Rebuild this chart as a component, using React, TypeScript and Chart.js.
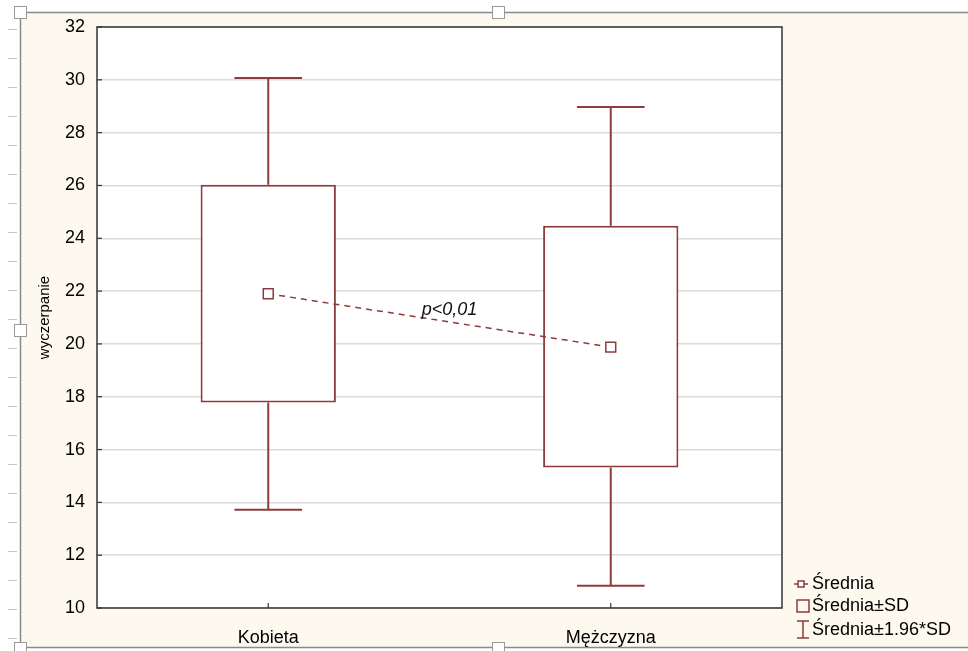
import React, { useEffect, useRef } from "react";
import { Chart, registerables } from "chart.js";

Chart.register(...registerables);

const categories = ["Kobieta", "Mężczyzna"];
const means = [21.9, 19.88];
const sdLow = [17.78, 15.32];
const sdHigh = [26.03, 24.47];
const ciLow = [13.72, 10.84];
const ciHigh = [30.07, 28.97];
const yMin = 10;
const yMax = 32;
const yStep = 2;
const yTitle = "wyczerpanie";
const annotationText = "p<0,01";
const annotationY = 21.3;
const legendLabels = ["Średnia", "Średnia±SD", "Średnia±1.96*SD"];

const RED = "#8e3b3b";
const FONT = "'Liberation Sans', Arial, sans-serif";

const framePlugin = {
  id: "frame",
  beforeDraw(chart: any) {
    const { ctx, width, height, chartArea } = chart;
    ctx.save();
    ctx.fillStyle = "#ffffff";
    ctx.fillRect(0, 0, width, height);
    // cream frame
    ctx.fillStyle = "#fdf9ef";
    ctx.fillRect(20, 12, width - 20, 636);
    ctx.strokeStyle = "#8a8a8a";
    ctx.lineWidth = 1.5;
    ctx.beginPath();
    ctx.moveTo(width, 12.5);
    ctx.lineTo(20.5, 12.5);
    ctx.lineTo(20.5, 647.5);
    ctx.lineTo(width, 647.5);
    ctx.stroke();
    // ruler ticks
    ctx.strokeStyle = "#c4c4c4";
    ctx.lineWidth = 1;
    for (let y = 29; y < height; y += 29) {
      ctx.beginPath();
      ctx.moveTo(8, y + 0.5);
      ctx.lineTo(17, y + 0.5);
      ctx.stroke();
    }
    // handles
    const handles = [
      [20, 12],
      [498, 12],
      [20, 330],
      [20, 648],
      [498, 648],
    ];
    ctx.fillStyle = "#ffffff";
    ctx.strokeStyle = "#9a9a9a";
    for (const [hx, hy] of handles) {
      ctx.fillRect(hx - 6, hy - 6, 12, 12);
      ctx.strokeRect(hx - 6 + 0.5, hy - 6 + 0.5, 12, 12);
    }
    // plot area background
    ctx.fillStyle = "#ffffff";
    ctx.fillRect(
      chartArea.left,
      chartArea.top,
      chartArea.right - chartArea.left,
      chartArea.bottom - chartArea.top
    );
    ctx.restore();
  },
  beforeDatasetsDraw(chart: any) {
    const { ctx } = chart;
    const xs = chart.scales.x;
    const ys = chart.scales.y;
    const meta = chart.getDatasetMeta(1);
    ctx.save();
    ctx.strokeStyle = RED;
    ctx.lineWidth = 2;
    categories.forEach((_, i) => {
      const x = xs.getPixelForValue(i);
      const bw = meta.data[i] ? meta.data[i].width : 100;
      const half = bw / 4;
      const yTop = ys.getPixelForValue(ciHigh[i]);
      const yBoxTop = ys.getPixelForValue(sdHigh[i]);
      const yBoxBot = ys.getPixelForValue(sdLow[i]);
      const yBot = ys.getPixelForValue(ciLow[i]);
      ctx.beginPath();
      ctx.moveTo(x, yTop);
      ctx.lineTo(x, yBoxTop);
      ctx.moveTo(x, yBoxBot);
      ctx.lineTo(x, yBot);
      ctx.moveTo(x - half, yTop);
      ctx.lineTo(x + half, yTop);
      ctx.moveTo(x - half, yBot);
      ctx.lineTo(x + half, yBot);
      ctx.stroke();
    });
    ctx.restore();
  },
  afterDraw(chart: any) {
    const { ctx, chartArea } = chart;
    const xs = chart.scales.x;
    const ys = chart.scales.y;
    ctx.save();
    // plot border
    ctx.strokeStyle = "#333333";
    ctx.lineWidth = 1.5;
    ctx.strokeRect(
      chartArea.left,
      chartArea.top,
      chartArea.right - chartArea.left,
      chartArea.bottom - chartArea.top
    );
    // inside ticks
    ctx.lineWidth = 1.2;
    for (let v = yMin; v <= yMax; v += yStep) {
      const y = ys.getPixelForValue(v);
      ctx.beginPath();
      ctx.moveTo(chartArea.left, y);
      ctx.lineTo(chartArea.left + 5, y);
      ctx.stroke();
    }
    categories.forEach((_, i) => {
      const x = xs.getPixelForValue(i);
      ctx.beginPath();
      ctx.moveTo(x, chartArea.bottom);
      ctx.lineTo(x, chartArea.bottom - 5);
      ctx.stroke();
    });
    // annotation
    const mx = (xs.getPixelForValue(0) + xs.getPixelForValue(1)) / 2 + 10;
    ctx.fillStyle = "#111111";
    ctx.font = `italic 18px ${FONT}`;
    ctx.textAlign = "center";
    ctx.textBaseline = "middle";
    ctx.fillText(annotationText, mx, ys.getPixelForValue(annotationY));

    // legend
    const lx = chartArea.right + 10;
    const tx = chartArea.right + 30;
    const rows = [chartArea.bottom - 24, chartArea.bottom - 2, chartArea.bottom + 22];
    ctx.strokeStyle = RED;
    ctx.lineWidth = 1.5;
    // item 1: line with square
    ctx.beginPath();
    ctx.moveTo(lx + 2, rows[0]);
    ctx.lineTo(lx + 16, rows[0]);
    ctx.stroke();
    ctx.fillStyle = "#ffffff";
    ctx.fillRect(lx + 6, rows[0] - 3, 6, 6);
    ctx.strokeRect(lx + 6, rows[0] - 3, 6, 6);
    // item 2: square
    ctx.strokeRect(lx + 5, rows[1] - 6, 12, 12);
    // item 3: I-shape
    ctx.beginPath();
    ctx.moveTo(lx + 5, rows[2] - 9);
    ctx.lineTo(lx + 17, rows[2] - 9);
    ctx.moveTo(lx + 11, rows[2] - 9);
    ctx.lineTo(lx + 11, rows[2] + 8);
    ctx.moveTo(lx + 5, rows[2] + 8);
    ctx.lineTo(lx + 17, rows[2] + 8);
    ctx.stroke();
    ctx.fillStyle = "#000000";
    ctx.font = `18px ${FONT}`;
    ctx.textAlign = "left";
    ctx.textBaseline = "middle";
    legendLabels.forEach((t, i) => ctx.fillText(t, tx, rows[i]));
    ctx.restore();
  },
};

export default function App() {
  const ref = useRef<HTMLCanvasElement | null>(null);
  useEffect(() => {
    if (!ref.current) return;
    const chart = new Chart(ref.current, {
      type: "bar",
      data: {
        labels: categories,
        datasets: [
          {
            type: "line",
            label: legendLabels[0],
            data: means,
            order: 0,
            borderColor: RED,
            borderWidth: 1.5,
            borderDash: [6, 5],
            pointStyle: "rect",
            pointRadius: 7,
            pointBackgroundColor: "#ffffff",
            pointBorderColor: RED,
            pointBorderWidth: 1.5,
            tension: 0,
            fill: false,
          } as any,
          {
            type: "bar",
            label: legendLabels[1],
            data: categories.map((_, i) => [sdLow[i], sdHigh[i]]) as any,
            order: 1,
            backgroundColor: "#ffffff",
            borderColor: RED,
            borderWidth: 2,
            borderSkipped: false,
            categoryPercentage: 1,
            barPercentage: 0.395,
          } as any,
        ],
      },
      options: {
        responsive: false,
        animation: false,
        devicePixelRatio: 1,
        layout: { padding: { top: 27, right: 186, bottom: 0, left: 0 } },
        plugins: {
          legend: { display: false },
          tooltip: { enabled: false },
        },
        scales: {
          x: {
            type: "category",
            offset: true,
            grid: { display: false },
            border: { display: false },
            ticks: {
              color: "#000000",
              font: { family: FONT, size: 18 },
              padding: 11,
            },
            afterFit: (s: any) => {
              s.height = 43;
            },
          },
          y: {
            min: yMin,
            max: yMax,
            ticks: {
              stepSize: yStep,
              color: "#000000",
              font: { family: FONT, size: 18 },
              padding: 12,
            },
            grid: { color: "#dcdcdc", lineWidth: 1.5, drawTicks: false },
            border: { display: false },
            title: {
              display: true,
              text: yTitle,
              color: "#000000",
              font: { family: FONT, size: 15 },
              padding: { top: 36, bottom: 0 },
            },
            afterFit: (s: any) => {
              s.width = 97;
            },
          },
        },
      } as any,
      plugins: [framePlugin],
    });
    return () => chart.destroy();
  }, []);
  return (
    <div style={{ position: "absolute", left: 0, top: 0, width: 968, height: 651 }}>
      <canvas ref={ref} width={968} height={651} style={{ width: 968, height: 651 }} />
    </div>
  );
}
